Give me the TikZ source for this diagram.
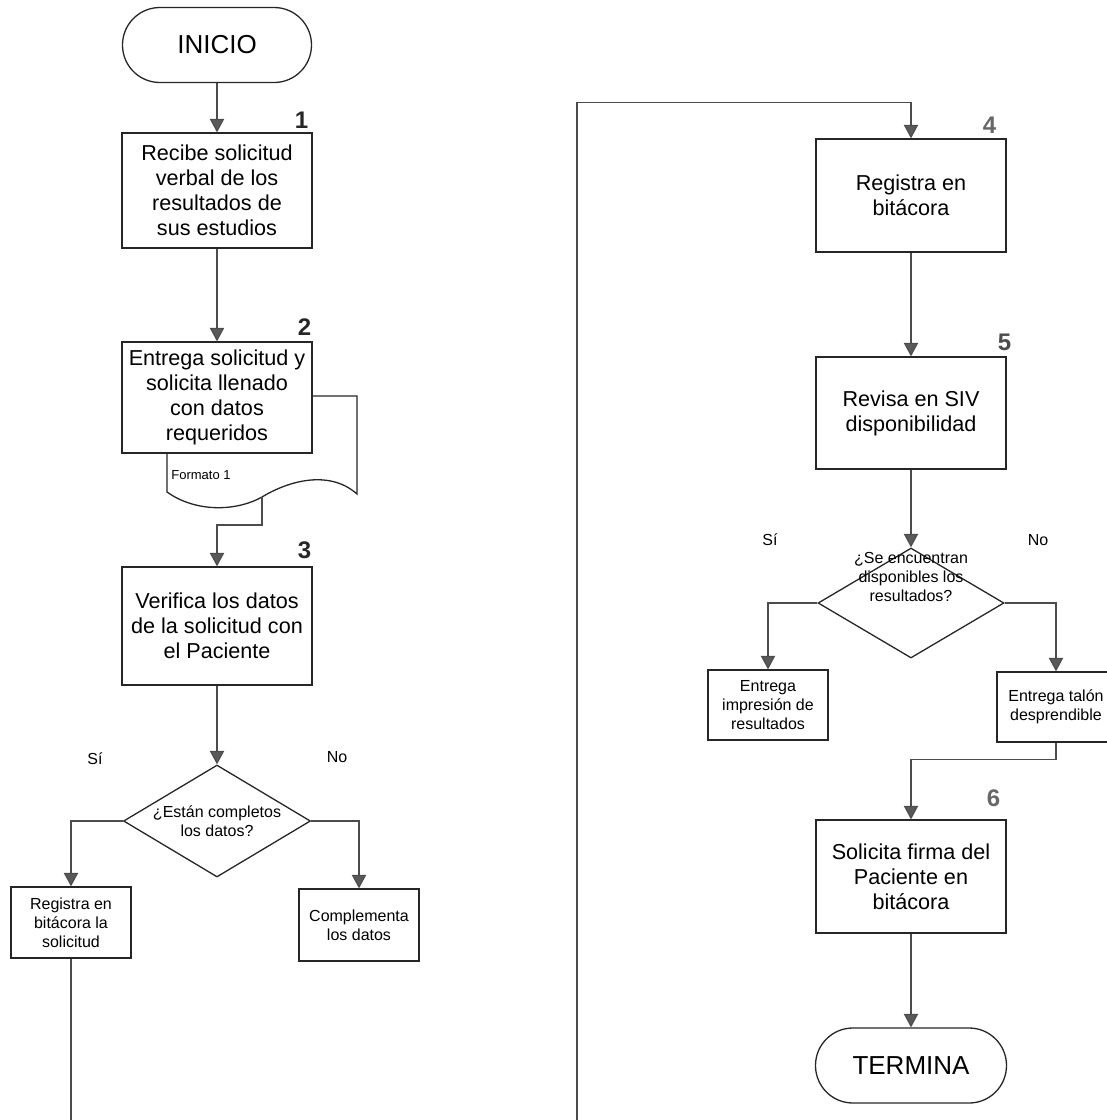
\documentclass[tikz,border=0pt]{standalone}
\usepackage{fontspec}
\setmainfont{Liberation Sans}
\usetikzlibrary{shapes.geometric,arrows.meta,calc,positioning}

\begin{document}
\begin{tikzpicture}[x=0.5pt,y=-0.5pt,
    linea/.style={draw=black!70, line width=0.55pt},
    flecha/.style={linea, -{Triangle[width=7.2pt,length=6.8pt,fill=black!65]}},
    proceso/.style={draw=black!85, line width=0.65pt, fill=white, align=center, inner sep=2pt, minimum width=95pt, font=\fontsize{10.8}{12.5}\selectfont},
    caja/.style={proceso, minimum width=60pt, minimum height=35.5pt, font=\fontsize{8}{9.5}\selectfont},
    terminal/.style={draw=black!85, line width=0.65pt, rounded corners=18.7pt, minimum width=94.5pt, minimum height=37.5pt, font=\fontsize{13}{15}\selectfont},
    decision/.style={diamond, draw=black!85, line width=0.65pt, inner sep=0pt, minimum width=93.5pt, minimum height=56pt},
    rotulo/.style={align=center, inner sep=0pt, font=\fontsize{8}{9.7}\selectfont},
    numero/.style={anchor=south east, inner sep=0pt, text=black!85, font=\fontsize{12}{12}\selectfont\bfseries}]
  \useasboundingbox (0,0) rectangle (1107,1120);
  \clip (0,0) rectangle (1107,1120);

  % formato que entrega el paso 2
  \draw[draw=black!85, line width=0.65pt, fill=white] (167,396) -- (357,396) -- (357,494)
    .. controls (330,470) and (290,480) .. (262,497)
    .. controls (235,512) and (195,512) .. (167,492) -- cycle;
  \node[anchor=west, inner sep=0pt, font=\fontsize{6.5}{7}\selectfont] (formato) at (171,475) {Formato 1};
  \coordinate (docout) at (262,497);

  % columna izquierda
  \node[terminal] (inicio) at (217,45) {INICIO};
  \node[proceso, minimum height=57.5pt] (p1) at (217,190.5) {Recibe solicitud\\verbal de los\\resultados de\\sus estudios};
  \node[proceso, minimum height=55.5pt] (p2) at (217,397.5) {Entrega solicitud y\\solicita llenado\\con datos\\requeridos};
  \node[proceso, minimum height=59pt] (p3) at (217,626) {Verifica los datos\\de la solicitud con\\el Paciente};
  \node[decision] (d1) at (217,821) {};
  \node[rotulo] (d1txt) at (217,821) {¿Están completos\\los datos?};
  \node[caja] (reg) at (71,922.5) {Registra en\\bitácora la\\solicitud};
  \node[caja, minimum height=36pt] (comp) at (359,925) {Complementa\\los datos};
  \node[rotulo] (si1) at (95,759) {Sí};
  \node[rotulo] (no1) at (337,757) {No};

  % columna derecha
  \node[proceso, minimum height=56.5pt] (p4) at (911,195.5) {Registra en\\bitácora};
  \node[proceso, minimum height=56pt] (p5) at (911,413) {Revisa en SIV\\disponibilidad};
  \node[decision, minimum width=93pt, minimum height=55pt] (d2) at (911,603) {};
  \node[rotulo] (d2txt) at (911,577) {¿Se encuentran\\disponibles los\\resultados?};
  \node[caja, minimum height=35pt] (imp) at (768,705) {Entrega\\impresión de\\resultados};
  \node[caja, minimum width=59pt, minimum height=35pt] (talon) at (1056,707) {Entrega talón\\desprendible};
  \node[rotulo] (si2) at (770,540) {Sí};
  \node[rotulo] (no2) at (1038,540) {No};
  \node[proceso, minimum height=56.5pt] (p6) at (911,876.5) {Solicita firma del\\Paciente en\\bitácora};
  \node[terminal, minimum width=95.5pt] (termina) at (911,1065.5) {TERMINA};

  % numeros de paso
  \node[numero, xshift=-2pt, yshift=1.5pt] (n1) at (p1.north east) {1};
  \node[numero, xshift=-0.5pt, yshift=2.5pt] (n2) at (p2.north east) {2};
  \node[numero, xshift=-0.5pt, yshift=3.5pt] (n3) at (p3.north east) {3};
  \node[numero, text=black!60, xshift=-5pt, yshift=2pt] (n4) at (p4.north east) {4};
  \node[numero, text=black!70, xshift=2.5pt, yshift=2.5pt] (n5) at (p5.north east) {5};
  \node[numero, text=black!60, xshift=-3pt, yshift=6pt] (n6) at (p6.north east) {6};

  % conectores
  \draw[flecha] (inicio) -- (p1);
  \draw[flecha] (p1) -- (p2);
  \draw[flecha] (docout) -- ++(0,28) -| (p3.north);
  \draw[flecha] (p3) -- (d1);
  \draw[flecha] (d1.west) -| (reg.north);
  \draw[flecha] (d1.east) -| (comp.north);
  \draw[flecha] (reg.south) |- (577,1140) |- ($(p4.north)+(0,-36)$) -- (p4.north);
  \draw[flecha] (p4) -- (p5);
  \draw[flecha] (p5) -- (d2);
  \draw[flecha] (d2.west) -| (imp.north);
  \draw[flecha] (d2.east) -| (talon.north);
  \draw[flecha] (talon.south) -- ++(0,17) -| (p6.north);
  \draw[flecha] (p6) -- (termina);
\end{tikzpicture}
\end{document}
